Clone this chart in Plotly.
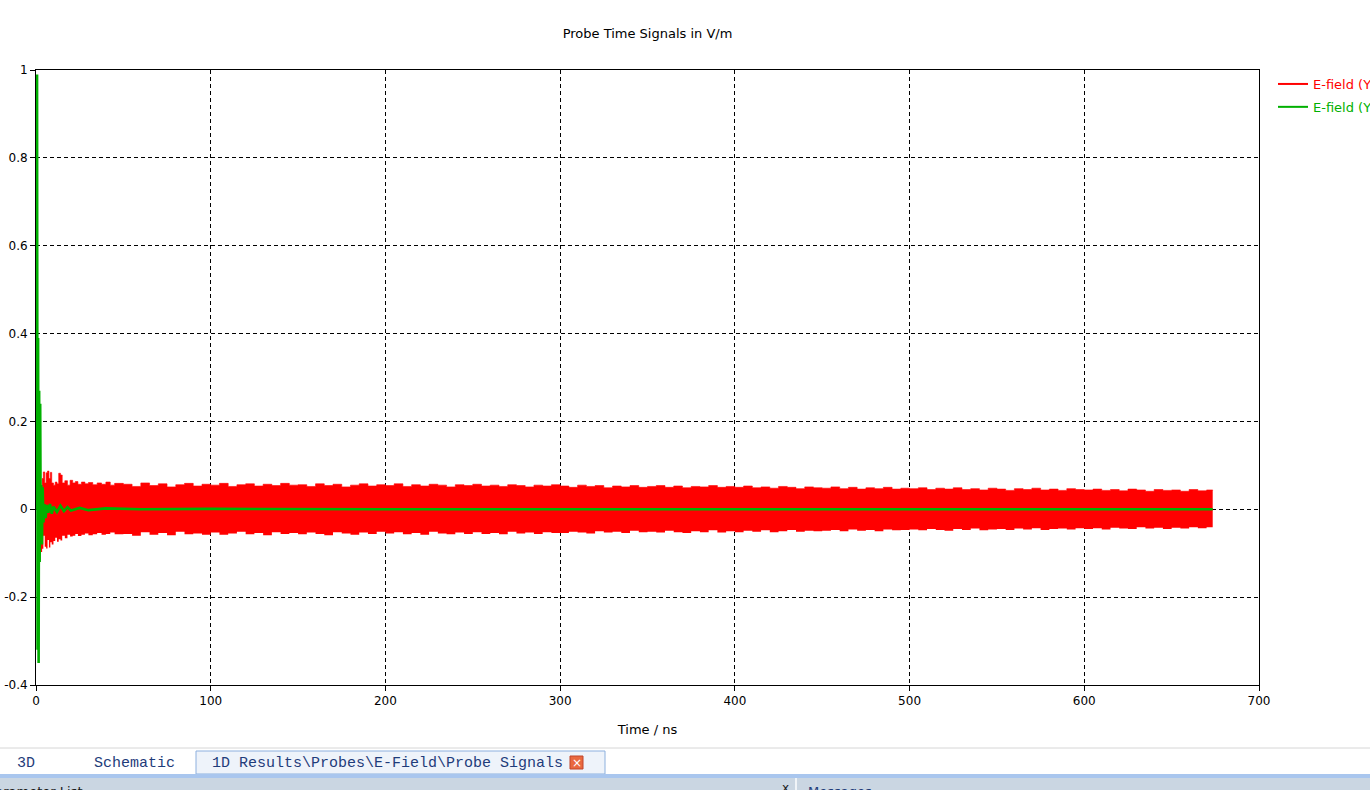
import plotly.graph_objects as go

# ---------------- data ----------------
# Green probe signal: time (ns) and value (V/m)
green_t = [0, 0.3, 0.6, 0.9, 1.2, 1.5, 1.8, 2.1, 2.4, 2.7, 3.0, 3.4, 3.8, 4.3, 4.8,
           5.5, 6.2, 7.0, 8.0, 9.0, 10, 12, 14, 16, 18, 20, 25, 30, 40, 60, 100,
           200, 300, 400, 500, 600, 673.5]
green_v = [0, 0.33, 0.99, -0.32, 0.39, -0.35, 0.27, -0.12, 0.24, -0.06, 0.055, -0.08,
           0.05, -0.03, 0.012, -0.02, 0.01, -0.008, 0.012, -0.01, 0.006, -0.006, 0.008,
           -0.004, 0.005, -0.003, 0.003, -0.002, 0.002, 0, 0.001, 0, 0, 0, 0, 0, 0]

# Red probe signal: dense oscillation, given as its upper / lower envelope
red_t = [2.7, 3.5, 4.2, 5.0, 5.8, 6.6, 7.4, 8.2, 9.0, 10.0, 11.0, 12.0, 13.0, 14.0, 15.0,
         16.5, 18.0, 19.5, 21.0, 22.5, 24.0, 26.0, 28.0, 30.0, 32.5, 35.0, 37.5, 40.0, 42.5, 45.0,
         50, 55, 60, 65, 70, 75, 80, 85, 90, 95,
         100, 105, 110, 115, 120, 125, 130, 135, 140, 145,
         150, 155, 160, 165, 170, 175, 180, 185, 190, 195,
         200, 205, 210, 215, 220, 225, 230, 235, 240, 245,
         250, 255, 260, 265, 270, 275, 280, 285, 290, 295,
         300, 305, 310, 315, 320, 325, 330, 335, 340, 345,
         350, 355, 360, 365, 370, 375, 380, 385, 390, 395,
         400, 405, 410, 415, 420, 425, 430, 435, 440, 445,
         450, 455, 460, 465, 470, 475, 480, 485, 490, 495,
         500, 505, 510, 515, 520, 525, 530, 535, 540, 545,
         550, 555, 560, 565, 570, 575, 580, 585, 590, 595,
         600, 605, 610, 615, 620, 625, 630, 635, 640, 645,
         650, 655, 660, 665, 670, 673.5]
red_upper = [0.03, 0.07, 0.085, 0.06, 0.083, 0.087, 0.07, 0.084, 0.06, 0.055, 0.062, 0.058,
             0.082, 0.078, 0.06, 0.065, 0.055, 0.066, 0.06, 0.063, 0.057, 0.062, 0.058, 0.061,
             0.056, 0.060, 0.057, 0.062, 0.055, 0.059,
             0.057, 0.052, 0.060, 0.054, 0.058, 0.051, 0.056, 0.059, 0.053, 0.057,
             0.055, 0.059, 0.052, 0.056, 0.058, 0.053, 0.057, 0.054, 0.059, 0.055,
             0.056, 0.052, 0.058, 0.054, 0.057, 0.051, 0.055, 0.058, 0.053, 0.056,
             0.054, 0.058, 0.052, 0.056, 0.053, 0.057, 0.055, 0.051, 0.056, 0.054,
             0.057, 0.053, 0.055, 0.052, 0.056, 0.054, 0.051, 0.055, 0.053, 0.056,
             0.053, 0.050, 0.055, 0.052, 0.054, 0.049, 0.053, 0.051, 0.054, 0.050,
             0.052, 0.054, 0.050, 0.053, 0.049, 0.052, 0.051, 0.054, 0.050, 0.052,
             0.050, 0.053, 0.049, 0.051, 0.048, 0.052, 0.050, 0.047, 0.051, 0.049,
             0.048, 0.051, 0.047, 0.050, 0.046, 0.049, 0.047, 0.050, 0.046, 0.048,
             0.047, 0.049, 0.045, 0.048, 0.046, 0.049, 0.045, 0.047, 0.044, 0.048,
             0.046, 0.043, 0.047, 0.045, 0.048, 0.044, 0.046, 0.043, 0.047, 0.045,
             0.044, 0.046, 0.043, 0.045, 0.042, 0.046, 0.044, 0.041, 0.045, 0.043,
             0.044, 0.041, 0.045, 0.042, 0.044, 0.043]
red_lower = [-0.097, -0.09, -0.06, -0.085, -0.089, -0.07, -0.087, -0.075, -0.08, -0.072,
             -0.065, -0.074, -0.068, -0.071, -0.06, -0.066, -0.058, -0.062, -0.06, -0.056,
             -0.061, -0.058, -0.055, -0.059, -0.057, -0.054, -0.058, -0.056, -0.053, -0.057,
             -0.056, -0.060, -0.052, -0.058, -0.054, -0.059, -0.051, -0.057, -0.055, -0.058,
             -0.053, -0.058, -0.055, -0.051, -0.057, -0.054, -0.059, -0.052, -0.056, -0.054,
             -0.057, -0.053, -0.056, -0.059, -0.052, -0.055, -0.058, -0.053, -0.056, -0.051,
             -0.055, -0.052, -0.057, -0.054, -0.058, -0.051, -0.055, -0.057, -0.053, -0.056,
             -0.052, -0.056, -0.054, -0.057, -0.051, -0.055, -0.053, -0.056, -0.052, -0.054,
             -0.054, -0.051, -0.053, -0.055, -0.050, -0.053, -0.051, -0.054, -0.049, -0.052,
             -0.051, -0.053, -0.049, -0.052, -0.054, -0.050, -0.052, -0.048, -0.053, -0.050,
             -0.052, -0.049, -0.051, -0.048, -0.052, -0.050, -0.047, -0.051, -0.049, -0.050,
             -0.049, -0.047, -0.050, -0.046, -0.049, -0.047, -0.050, -0.046, -0.048, -0.047,
             -0.046, -0.048, -0.045, -0.047, -0.049, -0.045, -0.047, -0.044, -0.048, -0.046,
             -0.045, -0.047, -0.044, -0.046, -0.043, -0.047, -0.045, -0.044, -0.046, -0.043,
             -0.045, -0.043, -0.046, -0.042, -0.044, -0.045, -0.041, -0.044, -0.042, -0.045,
             -0.042, -0.044, -0.041, -0.043, -0.041, -0.040]

series_names = ["E-field (Y) [1]", "E-field (Y) [2]"]
series_colors = ["#ff0000", "#00b000"]

x_ticks = [0, 100, 200, 300, 400, 500, 600, 700]
y_ticks = [-0.4, -0.2, 0, 0.2, 0.4, 0.6, 0.8, 1]
y_tick_text = ["-0.4", "-0.2", "0", "0.2", "0.4", "0.6", "0.8", "1"]

tab_labels = ["3D", "Schematic", "1D Results\\Probes\\E-Field\\Probe Signals"]

# ---------------- figure ----------------
W, H = 1370, 790
L, R, T, B = 36, 1259, 70, 685  # plot area in pixels
FONT = "DejaVu Sans"


def px_x(px):
    return (px - L) / (R - L)


def px_y(py):
    return (B - py) / (B - T)


fig = go.Figure()

# red envelope band (lower then upper, filled between)
fig.add_trace(go.Scatter(x=red_t, y=red_lower, mode="lines",
                         line=dict(width=0, color=series_colors[0], shape="hv"),
                         showlegend=False, hoverinfo="skip"))
fig.add_trace(go.Scatter(x=red_t, y=red_upper, mode="lines",
                         line=dict(width=0.6, color=series_colors[0], shape="hv"),
                         fill="tonexty", fillcolor=series_colors[0], showlegend=False, hoverinfo="skip"))
# green signal
fig.add_trace(go.Scatter(x=green_t, y=green_v, mode="lines", line=dict(width=2.6, color=series_colors[1]),
                         showlegend=False))
# legend entries
for i, (name, col) in enumerate(zip(series_names, series_colors)):
    fig.add_trace(go.Scatter(x=[None], y=[None], mode="lines", line=dict(width=2, color=col),
                             legendgroup="g%d" % i,
                             name="<span style='color:%s'>%s</span>" % (col, name)))

axis_common = dict(showline=True, linecolor="black", linewidth=1, mirror=True,
                   ticks="outside", ticklen=5, tickcolor="black", tickwidth=1,
                   showgrid=True, gridcolor="black", gridwidth=1, griddash="4px,3px",
                   zeroline=False, tickfont=dict(family=FONT, size=12, color="black"))

fig.update_xaxes(range=[0, 700], tickvals=x_ticks, **axis_common,
                 title=dict(text="Time / ns", font=dict(family=FONT, size=13, color="black"), standoff=17))
fig.update_yaxes(range=[-0.4, 1], tickvals=y_ticks, ticktext=y_tick_text, **axis_common)

shapes = []
annotations = []

# bottom window chrome (tab strip and panel header)
shapes.append(dict(type="line", xref="paper", yref="paper", x0=px_x(0), x1=px_x(W),
                   y0=px_y(748), y1=px_y(748), line=dict(color="#d6d6d6", width=1)))
shapes.append(dict(type="rect", xref="paper", yref="paper", x0=px_x(196), x1=px_x(605),
                   y0=px_y(774), y1=px_y(751), fillcolor="#eef3fa", line=dict(color="#8db0de", width=1)))
shapes.append(dict(type="rect", xref="paper", yref="paper", x0=px_x(0), x1=px_x(W),
                   y0=px_y(778), y1=px_y(774), fillcolor="#a9c6ee", line=dict(width=0)))
shapes.append(dict(type="rect", xref="paper", yref="paper", x0=px_x(0), x1=px_x(W),
                   y0=px_y(792), y1=px_y(778), fillcolor="#cad6e2", line=dict(width=0)))
shapes.append(dict(type="line", xref="paper", yref="paper", x0=px_x(796), x1=px_x(796),
                   y0=px_y(792), y1=px_y(778), line=dict(color="#f0f4f8", width=2)))
shapes.append(dict(type="rect", xref="paper", yref="paper", x0=px_x(570), x1=px_x(583),
                   y0=px_y(769), y1=px_y(756), fillcolor="#e9683f", line=dict(color="#c0442a", width=1)))

tab_font = dict(family="Liberation Mono", size=15, color="#1f3c7a")
for label, cx in zip(tab_labels, [26, 134, 387]):
    annotations.append(dict(text=label, xref="paper", yref="paper", x=px_x(cx), y=px_y(763),
                            xanchor="center", yanchor="middle", showarrow=False, font=tab_font))
annotations.append(dict(text="×", xref="paper", yref="paper", x=px_x(576.5), y=px_y(762.5),
                        xanchor="center", yanchor="middle", showarrow=False,
                        font=dict(family=FONT, size=12, color="white")))
annotations.append(dict(text="Parameter List", xref="paper", yref="paper", x=px_x(-14), y=px_y(791),
                        xanchor="left", yanchor="middle", showarrow=False,
                        font=dict(family=FONT, size=13, color="#1a1a1a")))
annotations.append(dict(text="x", xref="paper", yref="paper", x=px_x(785), y=px_y(788),
                        xanchor="center", yanchor="middle", showarrow=False,
                        font=dict(family=FONT, size=12, color="#1a1a1a")))
annotations.append(dict(text="Messages", xref="paper", yref="paper", x=px_x(806), y=px_y(791),
                        xanchor="left", yanchor="middle", showarrow=False,
                        font=dict(family=FONT, size=13, color="#1f3c7a")))

fig.update_layout(
    width=W, height=H,
    margin=dict(l=L, r=W - R, t=T, b=H - B, autoexpand=False),
    paper_bgcolor="white", plot_bgcolor="white",
    title=dict(text="Probe Time Signals in V/m", x=(L + R) / 2 / W, xanchor="center",
               y=1 - 33 / H, yanchor="middle", font=dict(family=FONT, size=13, color="black")),
    legend=dict(x=px_x(1273), y=px_y(69), xanchor="left", yanchor="top",
                bgcolor="rgba(0,0,0,0)", borderwidth=0, traceorder="grouped", tracegroupgap=3,
                font=dict(family=FONT, size=13), itemwidth=30),
    shapes=shapes, annotations=annotations,
    showlegend=True,
)

fig.write_html("out.html", config={"displayModeBar": False},
               post_script="document.body.style.margin='0px';document.body.style.overflow='hidden';")
